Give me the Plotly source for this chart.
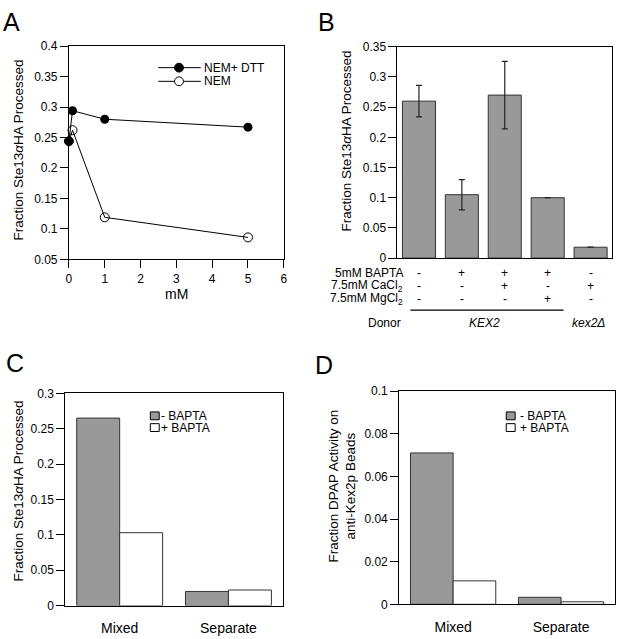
import plotly.graph_objects as go

W, H = 620, 639
FONT = "Liberation Sans, Arial, Helvetica, sans-serif"

# ---------------- data ----------------
# Panel A
a_x = [0, 0.1, 1, 5]
a_nem_dtt = [0.244, 0.294, 0.280, 0.267]
a_nem = [0.244, 0.262, 0.119, 0.086]
a_names = ["NEM+ DTT", "NEM"]

# Panel B
b_cats = [0, 1, 2, 3, 4]
b_vals = [0.260, 0.105, 0.270, 0.100, 0.018]
b_err = [0.026, 0.025, 0.056, None, None]
b_rows = ["5mM BAPTA", "7.5mM CaCl<sub>2</sub>", "7.5mM MgCl<sub>2</sub>"]
b_signs = [["-", "+", "+", "+", "-"],
           ["-", "-", "+", "-", "+"],
           ["-", "-", "-", "+", "-"]]
b_donor = ["Donor", "<i>KEX2</i>", "<i>kex2Δ</i>"]

# Panel C / D
cd_cats = ["Mixed", "Separate"]
c_minus = [0.265, 0.020]
c_plus = [0.103, 0.022]
d_minus = [0.071, 0.0033]
d_plus = [0.011, 0.0012]
cd_names = ["- BAPTA", "+ BAPTA"]

# ---------------- helpers ----------------
def px(p):
    return p / W

def py(p):
    return 1 - p / H

GRAY = "#999999"
EDGE = "#333333"

fig = go.Figure()

# Panel A
fig.add_trace(go.Scatter(x=a_x, y=a_nem_dtt, mode="lines+markers", name=a_names[0],
                         line=dict(color="black", width=1),
                         marker=dict(symbol="circle", size=9, color="black"),
                         cliponaxis=False, showlegend=False, xaxis="x", yaxis="y"))
fig.add_trace(go.Scatter(x=a_x, y=a_nem, mode="lines+markers", name=a_names[1],
                         line=dict(color="black", width=1),
                         marker=dict(symbol="circle-open", size=9, color="black", line=dict(width=1)),
                         cliponaxis=False, showlegend=False, xaxis="x", yaxis="y"))

# Panel B
fig.add_trace(go.Bar(x=b_cats, y=b_vals, width=0.77,
                     marker=dict(color=GRAY, line=dict(color=EDGE, width=1)),
                     error_y=dict(type="data", array=b_err, visible=True, color="#222222",
                                  thickness=1.2, width=3),
                     showlegend=False, xaxis="x2", yaxis="y2"))

# Panel C
fig.add_trace(go.Bar(x=cd_cats, y=c_minus, name=cd_names[0],
                     marker=dict(color=GRAY, line=dict(color=EDGE, width=1)),
                     showlegend=False, xaxis="x3", yaxis="y3", offsetgroup="a"))
fig.add_trace(go.Bar(x=cd_cats, y=c_plus, name=cd_names[1],
                     marker=dict(color="white", line=dict(color=EDGE, width=1)),
                     showlegend=False, xaxis="x3", yaxis="y3", offsetgroup="b"))
# Panel D
fig.add_trace(go.Bar(x=cd_cats, y=d_minus, name=cd_names[0],
                     marker=dict(color=GRAY, line=dict(color=EDGE, width=1)),
                     showlegend=False, xaxis="x4", yaxis="y4", offsetgroup="a"))
fig.add_trace(go.Bar(x=cd_cats, y=d_plus, name=cd_names[1],
                     marker=dict(color="white", line=dict(color=EDGE, width=1)),
                     showlegend=False, xaxis="x4", yaxis="y4", offsetgroup="b"))

axis_common = dict(showline=True, linecolor="black", linewidth=1, mirror=True,
                   showgrid=False, zeroline=False)
tf12 = dict(tickfont=dict(family=FONT, size=12, color="black"))
tf14 = dict(tickfont=dict(family=FONT, size=14, color="black"))

ticks_out = dict(ticks="outside", ticklen=8, tickwidth=1, tickcolor="black")

fig.update_layout(
    width=W, height=H, margin=dict(l=0, r=0, t=0, b=0),
    paper_bgcolor="white", plot_bgcolor="white",
    font=dict(family=FONT, size=12, color="black"),
    barmode="group", bargap=0.21, bargroupgap=0,
    showlegend=False,
    xaxis=dict(domain=[px(66.7), px(284)], range=[0, 6], dtick=1, anchor="y",
               **axis_common, **ticks_out, **tf12),
    yaxis=dict(domain=[py(258), py(40)], range=[0.05, 0.4], dtick=0.05, anchor="x",
               **axis_common, **ticks_out, **tf12),
    xaxis2=dict(domain=[px(399), px(616)], range=[-0.5, 4.5], anchor="y2",
                showticklabels=False, ticks="", **axis_common),
    yaxis2=dict(domain=[py(256.7), py(40.7)], range=[0, 0.35], dtick=0.05, anchor="x2",
                **axis_common, **ticks_out, **tf12),
    xaxis3=dict(domain=[px(63), px(283)], anchor="y3", ticks="", ticklabelstandoff=10,
                **axis_common, **tf14),
    yaxis3=dict(domain=[py(612), py(395)], range=[0, 0.3], dtick=0.05, anchor="x3",
                **axis_common, **ticks_out, **tf12),
    xaxis4=dict(domain=[px(400.7), px(619)], anchor="y4", ticks="", ticklabelstandoff=10,
                **axis_common, **tf14),
    yaxis4=dict(domain=[py(610.7), py(392.7)], range=[0, 0.1], dtick=0.02, anchor="x4",
                **axis_common, **ticks_out, **tf12),
)

ann = []
def text(x, y, s, size=13, xanchor="center", angle=0, xref="paper", yref="paper"):
    ann.append(dict(x=x, y=y, text=s, xref=xref, yref=yref, showarrow=False,
                    xanchor=xanchor, yanchor="middle", textangle=angle,
                    font=dict(family=FONT, size=size, color="black")))

# panel letters
text(px(9), py(15), "A", size=25)
text(px(327), py(15), "B", size=25)
text(px(12), py(364), "C", size=25)
text(px(325), py(366), "D", size=25)

# axis titles
ytitle = "Fraction Ste13<i>α</i>HA Processed"
text(px(15.5), py(146.5), ytitle, size=13.5, angle=-90)
text(px(175), py(293), "mM", size=14)
text(px(347.5), py(137), ytitle, size=13.5, angle=-90)
text(px(16), py(494.5), ytitle, size=13.5, angle=-90)
text(px(343), py(490), "Fraction DPAP Activity on<br>anti-Kex2p Beads", size=13.5, angle=-90)

# Panel A legend (manual)
shapes = []
leg_a_y = [62, 76]
leg_a_fill = ["black", "white"]
for i, nm in enumerate(a_names):
    yy = py(leg_a_y[i])
    shapes.append(dict(type="line", xref="paper", yref="paper", x0=px(157), x1=px(200),
                       y0=yy, y1=yy, line=dict(color="black", width=1)))
    r = 4.5
    shapes.append(dict(type="circle", xref="paper", yref="paper",
                       x0=px(178 - r), x1=px(178 + r), y0=py(leg_a_y[i] + r), y1=py(leg_a_y[i] - r),
                       fillcolor=leg_a_fill[i], line=dict(color="black", width=1)))
    text(px(201), yy, nm, size=12, xanchor="left")

# Panel C / D legends (manual)
def bar_legend(xsq, ytop, xtext):
    fills = [GRAY, "white"]
    for i, nm in enumerate(cd_names):
        y0 = ytop + i * 12
        shapes.append(dict(type="rect", xref="paper", yref="paper",
                           x0=px(xsq), x1=px(xsq + 9), y0=py(y0 + 8), y1=py(y0),
                           fillcolor=fills[i], line=dict(color="black", width=1)))
        text(px(xtext), py(y0 + 4.5), nm, size=12, xanchor="left")

bar_legend(149, 414, 158)
bar_legend(509, 414, 521)

# Panel B condition table
row_y = [272, 285, 298.5]
for r, lab in enumerate(b_rows):
    text(px(407), py(row_y[r]), lab, size=12, xanchor="right")
    for i, s in enumerate(b_signs[r]):
        text(b_cats[i], py(row_y[r]), s, size=12, xref="x2")
shapes.append(dict(type="line", xref="x2", yref="paper", x0=-0.2, x1=3.37,
                   y0=py(310), y1=py(310), line=dict(color="black", width=1.2)))
text(px(386), py(323), b_donor[0], size=12)
text(1.53, py(323), b_donor[1], size=12, xref="x2")
text(3.95, py(323), b_donor[2], size=12, xref="x2")

fig.update_layout(annotations=ann, shapes=shapes)

fig.write_html("out.html", config={"displayModeBar": False},
               post_script="document.body.style.margin='0px';document.body.style.padding='0px';")
